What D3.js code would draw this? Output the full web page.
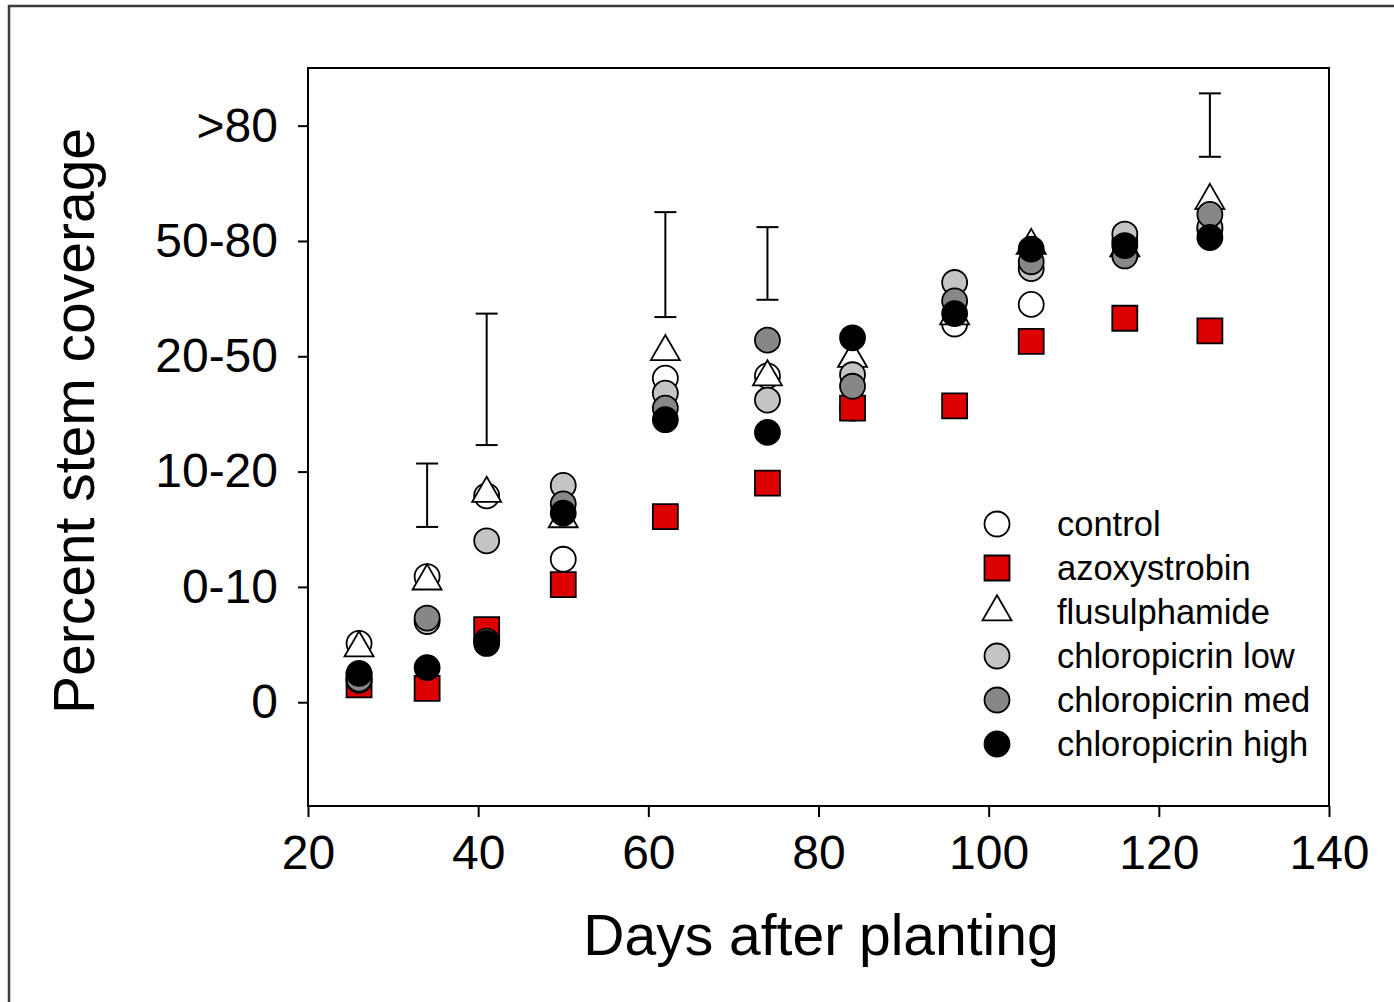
<!DOCTYPE html>
<html>
<head>
<meta charset="utf-8">
<script src="https://cdn.jsdelivr.net/npm/d3@7"></script>
<style>
  body { margin: 0; background: #fff; }
  svg text { font-family: "Liberation Sans", Arial, sans-serif; fill: #000; }
</style>
</head>
<body>
<div id="chart"></div>
<script>
// sampling days
const days = [26, 34, 41, 50, 62, 74, 84, 96, 105, 116, 126];

// stem coverage class (0 = "0", 1 = "0-10", ... 5 = ">80"), treatment means
const control = [0.51, 1.09, 1.79, 1.24, 2.81, 2.83, 2.55, 3.28, 3.45, 4.00, 4.10];
const azoxystrobin = [0.15, 0.12, 0.63, 1.02, 1.61, 1.90, 2.55, 2.57, 3.13, 3.33, 3.22];
const flusulphamide = [0.47, 1.05, 1.81, 1.59, 3.04, 2.82, 2.98, 3.35, 3.96, 3.94, 4.35];
const chloroLow = [0.19, 0.70, 1.40, 1.88, 2.68, 2.62, 2.84, 3.64, 3.76, 4.06, 4.12];
const chloroMed = [0.20, 0.73, 0.53, 1.72, 2.55, 3.14, 2.74, 3.48, 3.82, 3.87, 4.23];
const chloroHigh = [0.25, 0.30, 0.51, 1.64, 2.45, 2.34, 3.16, 3.37, 3.93, 3.96, 4.03];

// floating error bars (LSD)
const errDays = [34, 41, 62, 74, 126];
const errLo = [1.52, 2.23, 3.34, 3.49, 4.73];
const errHi = [2.07, 3.37, 4.25, 4.12, 5.28];

// axes
const yTickLabels = ['0', '0-10', '10-20', '20-50', '50-80', '>80'];
const xTicks = [20, 40, 60, 80, 100, 120, 140];

const seriesNames = ['control', 'azoxystrobin', 'flusulphamide', 'chloropicrin low', 'chloropicrin med', 'chloropicrin high'];
const seriesValues = [control, azoxystrobin, flusulphamide, chloroLow, chloroMed, chloroHigh];
const seriesShape = ['circle', 'square', 'triangle', 'circle', 'circle', 'circle'];
const seriesFill = ['#ffffff', '#dd0000', '#ffffff', '#c4c4c4', '#878787', '#000000'];

// dimensions
const WIDTH = 1394;
const HEIGHT = 1002;
const MARGIN_LEFT = 308;
const MARGIN_TOP = 68;
const PLOT_W = 1329 - MARGIN_LEFT;
const PLOT_H = 806 - MARGIN_TOP;

const $svg = d3.select('#chart').append('svg')
  .attr('width', WIDTH)
  .attr('height', HEIGHT);

// outer figure frame (only top and left edges fall inside the picture)
$svg.append('rect')
  .attr('x', 9).attr('y', 6)
  .attr('width', 1500).attr('height', 1100)
  .attr('fill', 'none')
  .attr('stroke', '#3a3a3a')
  .attr('stroke-width', 2.5);

const $vis = $svg.append('g')
  .attr('transform', `translate(${MARGIN_LEFT},${MARGIN_TOP})`);

// scales
const x = d3.scaleLinear().domain([20, 140]).range([0, PLOT_W]);
const y = d3.scaleLinear().domain([-0.9, 5.5]).range([PLOT_H, 0]);

// axes
const $xAxis = $vis.append('g')
  .attr('transform', `translate(0,${PLOT_H})`)
  .call(d3.axisBottom(x).tickValues(xTicks).tickFormat(d3.format('d'))
    .tickSizeInner(11).tickSizeOuter(0).tickPadding(18));

const $yAxis = $vis.append('g')
  .call(d3.axisLeft(y).tickValues(d3.range(yTickLabels.length))
    .tickFormat(i => yTickLabels[i])
    .tickSizeInner(10).tickSizeOuter(0).tickPadding(20));

[$xAxis, $yAxis].forEach(g => {
  g.select('.domain').remove();
  g.selectAll('.tick line').attr('stroke', '#000').attr('stroke-width', 2);
  g.selectAll('.tick text').style('font-size', '48px');
});

// plot box
$vis.append('rect')
  .attr('width', PLOT_W).attr('height', PLOT_H)
  .attr('fill', 'none')
  .attr('stroke', '#000')
  .attr('stroke-width', 2);

// axis titles
$svg.append('text')
  .attr('x', 821).attr('y', 955)
  .attr('text-anchor', 'middle')
  .style('font-size', '57px')
  .text('Days after planting');

$svg.append('text')
  .attr('transform', 'translate(94,421) rotate(-90)')
  .attr('text-anchor', 'middle')
  .style('font-size', '57px')
  .text('Percent stem coverage');

// error bars
const CAP = 11;
const $err = $vis.append('g').attr('class', 'err')
  .selectAll('g')
  .data(errDays.map((d, i) => ({ day: d, lo: errLo[i], hi: errHi[i] })))
  .join('g')
  .attr('stroke', '#000')
  .attr('stroke-width', 2);
$err.append('line')
  .attr('x1', d => x(d.day)).attr('x2', d => x(d.day))
  .attr('y1', d => y(d.lo)).attr('y2', d => y(d.hi));
$err.append('line')
  .attr('x1', d => x(d.day) - CAP).attr('x2', d => x(d.day) + CAP)
  .attr('y1', d => y(d.lo)).attr('y2', d => y(d.lo));
$err.append('line')
  .attr('x1', d => x(d.day) - CAP).attr('x2', d => x(d.day) + CAP)
  .attr('y1', d => y(d.hi)).attr('y2', d => y(d.hi));

// symbol helper
const symbolPath = {
  circle: d3.symbol(d3.symbolCircle, Math.PI * 12.5 * 12.5)(),
  square: d3.symbol(d3.symbolSquare, 25 * 25)(),
  triangle: d3.symbol(d3.symbolTriangle, 29 * 29 * Math.sqrt(3) / 4)()
};

function drawMark(sel, shape, fill) {
  sel.append('path')
    .attr('d', symbolPath[shape])
    .attr('fill', fill)
    .attr('stroke', '#000')
    .attr('stroke-width', 1.8);
}

// points, drawn series by series (later series on top)
seriesValues.forEach((vals, s) => {
  $vis.append('g').attr('class', 'series')
    .selectAll('g')
    .data(vals.map((v, i) => ({ day: days[i], v })))
    .join('g')
    .attr('transform', d => `translate(${x(d.day)},${y(d.v)})`)
    .each(function () { drawMark(d3.select(this), seriesShape[s], seriesFill[s]); });
});

// legend
const LEG_X = 997;
const LEG_Y = 524;
const LEG_STEP = 44;
const $legend = $svg.append('g').attr('class', 'legend')
  .selectAll('g')
  .data(seriesNames)
  .join('g')
  .attr('transform', (d, i) => `translate(${LEG_X},${LEG_Y + i * LEG_STEP})`);
$legend.each(function (d, i) { drawMark(d3.select(this), seriesShape[i], seriesFill[i]); });
$legend.append('text')
  .attr('x', 60)
  .attr('y', 12)
  .style('font-size', '34.5px')
  .text(d => d);
</script>
</body>
</html>
